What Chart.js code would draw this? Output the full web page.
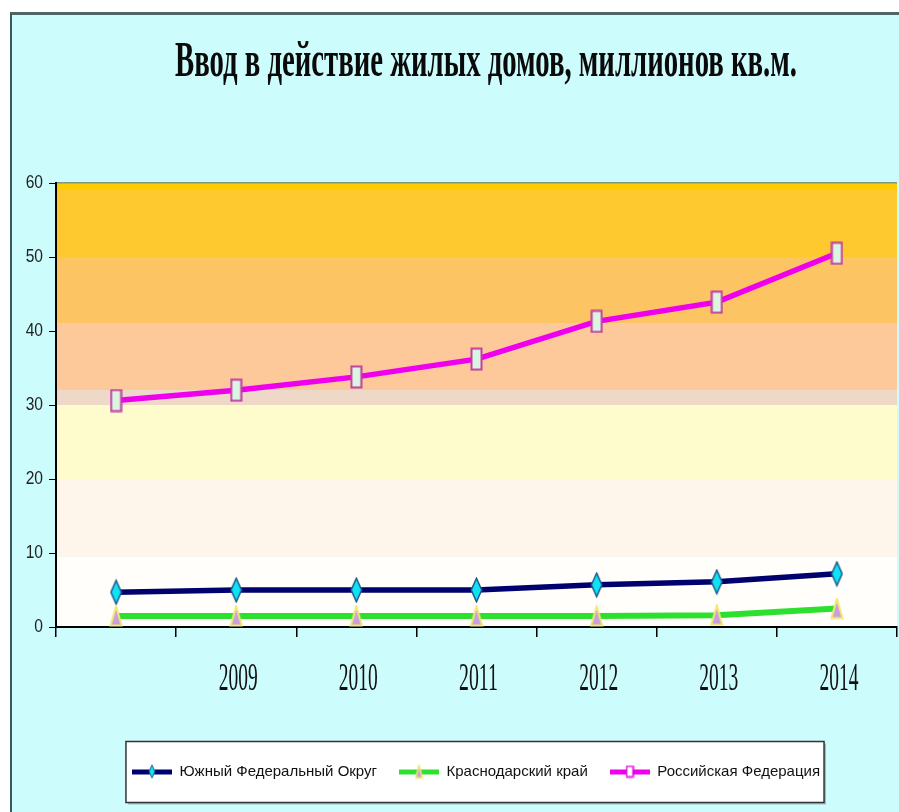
<!DOCTYPE html>
<html lang="ru">
<head>
<meta charset="UTF-8" />
<title>Ввод в действие жилых домов</title>
<script src="https://cdn.jsdelivr.net/npm/chart.js"></script>
<style>
    html, body { margin: 0; padding: 0; background: #fff; }
    #frame { position: absolute; left: 10px; top: 12px; width: 889px; height: 800px; box-sizing: border-box;
             background: #cdfcfd; border-left: 2px solid #3f5757; border-top: 3px solid #4d6565; }
    #wrap { position: absolute; left: 0; top: 0; width: 899px; height: 812px; }
</style>
</head>
<body>
<div id="frame"></div>
<div id="wrap"><canvas id="chart" width="899" height="812"></canvas></div>

<script>
    const TITLE = 'Ввод в действие жилых домов, миллионов кв.м.';
    const years = ['', '2009', '2010', '2011', '2012', '2013', '2014'];
    const yugFO = [4.7, 5.0, 5.0, 5.0, 5.7, 6.1, 7.2];
    const krasnodar = [1.5, 1.5, 1.5, 1.5, 1.5, 1.6, 2.5];
    const russia = [30.6, 32.0, 33.8, 36.2, 41.3, 43.9, 50.5];
    const seriesNames = ['Южный Федеральный Округ', 'Краснодарский край', 'Российская Федерация'];

    // background bands of the plot area (value edges, bottom to top)
    const bandEdges = [0, 9.5, 20, 30, 32, 41, 50, 60];
    const bandColors = ['#fffefb', '#fef6ea', '#fefbcc', '#eed8c8', '#fdc99a', '#fdc463', '#fec92e'];

    // marker pictures (the original markers are drawn stretched upright)
    function marker(kind, w, h, fill, stroke, lw) {
        const c = document.createElement('canvas');
        c.width = w; c.height = h;
        const g = c.getContext('2d');
        const m = lw / 2 + 0.5;
        g.beginPath();
        if (kind === 'diamond') {
            g.moveTo(w / 2, m); g.lineTo(w - m, h / 2); g.lineTo(w / 2, h - m); g.lineTo(m, h / 2);
        } else if (kind === 'triangle') {
            g.moveTo(w / 2, m); g.lineTo(w - m, h - m); g.lineTo(m, h - m);
        } else {
            g.rect(m, m, w - 2 * m, h - 2 * m);
        }
        g.closePath();
        g.fillStyle = fill; g.fill();
        g.lineWidth = lw; g.strokeStyle = stroke; g.stroke();
        return c;
    }

    function legendSample(color, pic) {
        const c = document.createElement('canvas');
        c.width = 40; c.height = 18;
        const g = c.getContext('2d');
        g.fillStyle = color;
        g.fillRect(0, 7, 40, 5);
        g.drawImage(pic, 20 - pic.width / 2, 9 - pic.height / 2);
        return c;
    }

    const lineColors = ['#00006e', '#2ee02e', '#ee00ee'];
    const pics = [
        marker('diamond', 13, 26, '#10e2f6', '#1b5a8a', 1.5),
        marker('triangle', 14, 22, '#c9a0dc', '#f3e676', 2),
        marker('square', 13, 24, '#dcf5e2', '#c040a0', 2)
    ];
    const smallPics = [
        marker('diamond', 8, 15, '#10e2f6', '#1b5a8a', 1),
        marker('triangle', 9, 15, '#c9a0dc', '#f3e676', 1.5),
        marker('square', 9, 13, '#ffffff', '#e000e0', 1.5)
    ];

    function legendFrame(chart) {
        const hb = chart.legend && chart.legend.legendHitBoxes;
        if (!hb || !hb.length) return null;
        const left = hb[0].left - 6;
        const right = hb[hb.length - 1].left + hb[hb.length - 1].width + 4;
        const cy = hb[0].top + hb[0].height / 2;
        return { left, top: cy - 30, w: right - left, h: 61 };
    }

    const bandsPlugin = {
        id: 'bands',
        beforeDraw(chart) {
            const { ctx, chartArea: a, scales: { y } } = chart;
            ctx.save();
            for (let i = 0; i < bandColors.length; i++) {
                const top = y.getPixelForValue(bandEdges[i + 1]);
                const bot = y.getPixelForValue(bandEdges[i]);
                ctx.fillStyle = bandColors[i];
                ctx.fillRect(a.left, top, a.right - a.left, bot - top);
            }
            ctx.fillStyle = '#ffcc00';
            ctx.fillRect(a.left, a.top, a.right - a.left, 6);
            ctx.fillStyle = '#7d9a80';
            ctx.fillRect(a.left, a.top - 1, a.right - a.left, 1.5);

            // legend box, under the legend text
            const f = legendFrame(chart);
            if (f) {
                ctx.fillStyle = 'rgba(60,80,80,0.35)';
                ctx.fillRect(f.left + 2, f.top + 2, f.w, f.h);
                ctx.fillStyle = '#ffffff';
                ctx.fillRect(f.left, f.top, f.w, f.h);
                ctx.strokeStyle = '#333';
                ctx.lineWidth = 1.5;
                ctx.strokeRect(f.left, f.top, f.w, f.h);
            }
            ctx.restore();
        },
        afterDraw(chart) {
            const { ctx, scales: { x, y } } = chart;
            ctx.save();
            // title, condensed serif
            ctx.fillStyle = '#0a0a0a';
            ctx.font = 'bold 50px "Liberation Serif"';
            ctx.textAlign = 'center';
            ctx.textBaseline = 'alphabetic';
            const tw = ctx.measureText(TITLE).width;
            ctx.translate(486, 76);
            ctx.scale(622 / tw, 1);
            ctx.fillText(TITLE, 0, 0);
            ctx.restore();

            // x labels, tall condensed serif
            ctx.save();
            ctx.fillStyle = '#111';
            ctx.font = '41px "Liberation Serif"';
            ctx.textAlign = 'center';
            ctx.textBaseline = 'alphabetic';
            years.forEach((lab, i) => {
                if (!lab) return;
                const w = ctx.measureText(lab).width;
                ctx.save();
                ctx.translate(x.getPixelForValue(i) + 2, 690);
                ctx.scale(39 / w, 1);
                ctx.fillText(lab, 0, 0);
                ctx.restore();
            });
            ctx.restore();

            // y labels, narrow sans
            ctx.save();
            ctx.fillStyle = '#222';
            ctx.font = '19px "Liberation Sans"';
            ctx.textAlign = 'right';
            ctx.textBaseline = 'middle';
            y.ticks.forEach(t => {
                ctx.save();
                ctx.translate(43, y.getPixelForValue(t.value));
                ctx.scale(0.82, 1);
                ctx.fillText(String(t.value), 0, 0);
                ctx.restore();
            });
            ctx.restore();
        }
    };

    const makeSet = (i, data) => ({
        label: seriesNames[i],
        data: data,
        borderColor: lineColors[i],
        backgroundColor: lineColors[i],
        borderWidth: i === 1 ? 6 : 5.5,
        pointStyle: pics[i],
        pointRadius: 8,
        tension: 0,
        clip: false
    });

    new Chart(document.getElementById('chart'), {
        type: 'line',
        data: {
            labels: years,
            datasets: [makeSet(0, yugFO), makeSet(1, krasnodar), makeSet(2, russia)]
        },
        options: {
            responsive: false,
            animation: false,
            layout: { autoPadding: false, padding: { top: 183, left: 55, right: 2, bottom: 23 } },
            plugins: {
                title: { display: false },
                tooltip: { enabled: false },
                legend: {
                    position: 'bottom',
                    labels: {
                        usePointStyle: true,
                        pointStyleWidth: 40,
                        padding: 22,
                        color: '#111',
                        font: { family: '"Liberation Sans", Arial', size: 15 },
                        generateLabels(chart) {
                            const items = Chart.defaults.plugins.legend.labels.generateLabels(chart);
                            items.forEach((it, i) => { it.pointStyle = legendSample(lineColors[i], smallPics[i]); it.rotation = 0; });
                            return items;
                        }
                    }
                }
            },
            scales: {
                x: {
                    offset: true,
                    grid: { offset: true, drawOnChartArea: false, tickLength: 10, color: '#000', lineWidth: 1.5 },
                    border: { color: '#000', width: 2 },
                    ticks: { display: false },
                    afterFit(scale) {
                        scale.height = 115;
                        scale.paddingLeft = 0;
                        scale.paddingRight = 0;
                    }
                },
                y: {
                    min: 0, max: 60,
                    grid: { drawOnChartArea: false, tickLength: 7, color: '#000' },
                    border: { color: '#000', width: 2 },
                    ticks: { stepSize: 10, display: false },
                    afterFit(scale) {
                        scale.width = 1;
                        scale.paddingTop = 0;
                        scale.paddingBottom = 0;
                    }
                }
            }
        },
        plugins: [bandsPlugin]
    });
</script>
</body>
</html>
